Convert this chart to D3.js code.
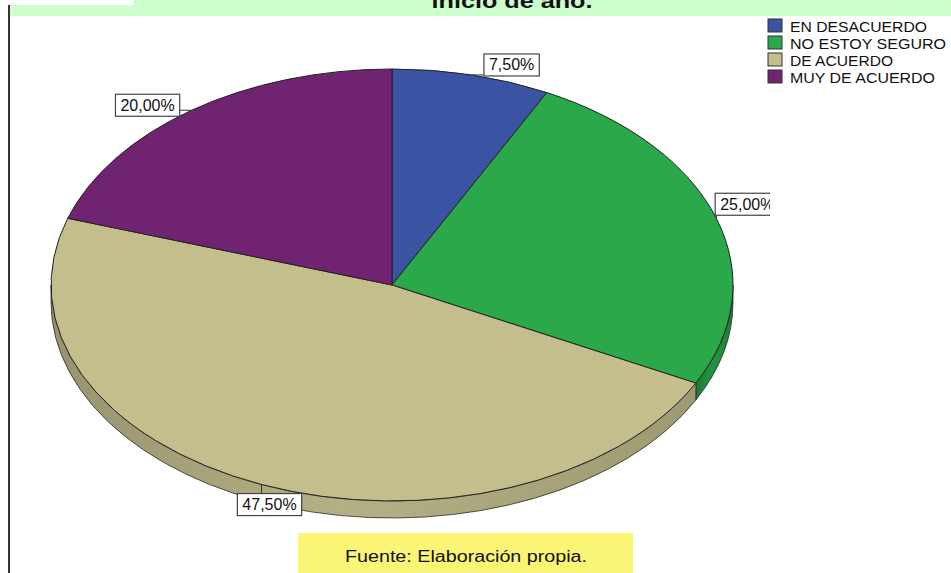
<!DOCTYPE html>
<html>
<head>
<meta charset="utf-8">
<script src="https://cdn.jsdelivr.net/npm/d3@7"></script>
<style>
  html, body { margin: 0; padding: 0; background: #fff; }
  svg { display: block; font-family: 'Liberation Sans', Arial, sans-serif; }
</style>
</head>
<body>
<div id="chart"></div>
<script>
// Chart data
const categories = ["EN DESACUERDO", "NO ESTOY SEGURO", "DE ACUERDO", "MUY DE ACUERDO"];
const values = [7.5, 25.0, 47.5, 20.0];
const colors = ["#3a53a3", "#2ba84a", "#c4bd8c", "#702370"];
const sideColors = ["#2c4190", "#1f8d3a", "#aca77d", "#5a1a5a"];
const title = "inicio de año.";
const source = "Fuente: Elaboración propia.";

const width = 951, height = 573;
const cx = 392, cy = 285, rx = 341, ry = 216, depth = 17;

// label box nudges from the rim point at the slice mid-angle (same order as categories)
const labelNudge = [[40, -10], [31, -14], [8, 20], [-44, -5]];

const fmt = d3.formatLocale({ decimal: ",", thousands: ".", grouping: [3], currency: ["", ""] }).format(".2f");

const svg = d3.select("#chart").append("svg")
    .attr("width", width)
    .attr("height", height);

const defs = svg.append("defs");
defs.append("clipPath").attr("id", "plotClip")
    .append("rect").attr("x", 0).attr("y", 0).attr("width", 770).attr("height", height);

// header band
svg.append("rect").attr("x", 10).attr("y", 0).attr("width", width - 10).attr("height", 16).attr("fill", "#ccffcc");
svg.append("rect").attr("x", 0).attr("y", 0).attr("width", 133).attr("height", 5).attr("fill", "#fff");
svg.append("text")
    .attr("x", 512).attr("y", 8)
    .attr("text-anchor", "middle")
    .attr("font-size", 21).attr("font-weight", "bold")
    .attr("textLength", 161).attr("lengthAdjust", "spacingAndGlyphs")
    .attr("fill", "#111")
    .text(title);

// left frame line
svg.append("line").attr("x1", 9).attr("x2", 9).attr("y1", 5).attr("y2", height)
    .attr("stroke", "#333").attr("stroke-width", 2);

const pie = d3.pie().sort(null).value(d => d);
const arcs = pie(values);

// parametric point on the ellipse (angle 0 = top, clockwise)
const pt = (a, dy = 0) => [cx + rx * Math.sin(a), cy - ry * Math.cos(a) + dy];

const plot = svg.append("g").attr("clip-path", "url(#plotClip)");

// side gradients
sideColors.forEach((c, i) => {
    const g = defs.append("linearGradient").attr("id", "side" + i)
        .attr("x1", 0).attr("x2", 1).attr("y1", 0).attr("y2", 0);
    g.append("stop").attr("offset", "0%").attr("stop-color", d3.color(c).darker(0.35));
    g.append("stop").attr("offset", "45%").attr("stop-color", d3.color(c).brighter(0.15));
    g.append("stop").attr("offset", "100%").attr("stop-color", d3.color(c).darker(0.25));
});

// 3D sides (visible between 3 o'clock and 9 o'clock through the bottom)
const sides = plot.append("g");
arcs.forEach((d, i) => {
    const a0 = Math.max(d.startAngle, Math.PI / 2);
    const a1 = Math.min(d.endAngle, 3 * Math.PI / 2);
    if (a1 <= a0) return;
    const p0 = pt(a0), p1 = pt(a1), q1 = pt(a1, depth), q0 = pt(a0, depth);
    const large = (a1 - a0) > Math.PI ? 1 : 0;
    const p = `M${p0}A${rx},${ry} 0 ${large} 1 ${p1}L${q1}A${rx},${ry} 0 ${large} 0 ${q0}Z`;
    sides.append("path")
        .attr("d", p)
        .attr("fill", `url(#side${i})`)
        .attr("stroke", "#2a2a2a")
        .attr("stroke-width", 0.8);
});

// top faces
const arcGen = d3.arc().innerRadius(0).outerRadius(1);
plot.append("g")
    .attr("transform", `translate(${cx},${cy}) scale(${rx},${ry})`)
    .selectAll("path")
    .data(arcs)
    .join("path")
    .attr("d", arcGen)
    .attr("fill", (d, i) => colors[i])
    .attr("stroke", "#222")
    .attr("stroke-width", 1)
    .attr("vector-effect", "non-scaling-stroke");

// value labels
const labels = plot.append("g");
arcs.forEach((d, i) => {
    const mid = (d.startAngle + d.endAngle) / 2;
    const anchor = pt(mid);
    const cxl = anchor[0] + labelNudge[i][0];
    const cyl = anchor[1] + labelNudge[i][1];
    const g = labels.append("g");
    const t = g.append("text")
        .attr("x", cxl).attr("y", cyl + 5.5)
        .attr("text-anchor", "middle")
        .attr("font-size", 16)
        .attr("fill", "#111")
        .text(fmt(d.data) + "%");
    const w = t.node().getComputedTextLength() + 10;
    const h = 22;
    const bx = cxl - w / 2, by = cyl - h / 2;
    const nx = Math.max(bx, Math.min(anchor[0], bx + w));
    const ny = Math.max(by, Math.min(anchor[1], by + h));
    g.insert("line", "text")
        .attr("x1", anchor[0]).attr("y1", anchor[1])
        .attr("x2", nx).attr("y2", ny)
        .attr("stroke", "#333").attr("stroke-width", 1);
    g.insert("rect", "text")
        .attr("x", bx).attr("y", by).attr("width", w).attr("height", h)
        .attr("fill", "#fff").attr("stroke", "#444").attr("stroke-width", 1.2);
});

// legend
const legend = svg.append("g").attr("transform", "translate(768,19)");
const legendY = d3.scalePoint().domain(categories).range([0, 51]);
const legendLen = [137, 156, 103, 145];
categories.forEach((c, i) => {
    legend.append("rect")
        .attr("x", 0).attr("y", legendY(c))
        .attr("width", 14).attr("height", 13)
        .attr("fill", colors[i]).attr("stroke", "#333").attr("stroke-width", 1);
    legend.append("text")
        .attr("x", 22).attr("y", legendY(c) + 12.5)
        .attr("font-size", 14)
        .attr("textLength", legendLen[i]).attr("lengthAdjust", "spacingAndGlyphs")
        .attr("fill", "#111")
        .text(c);
});

// source note
svg.append("rect").attr("x", 298).attr("y", 533).attr("width", 335).attr("height", 40).attr("fill", "#fbf576");
svg.append("text")
    .attr("x", 466).attr("y", 562)
    .attr("text-anchor", "middle")
    .attr("font-size", 16)
    .attr("textLength", 242).attr("lengthAdjust", "spacingAndGlyphs")
    .attr("fill", "#111")
    .text(source);
</script>
</body>
</html>
